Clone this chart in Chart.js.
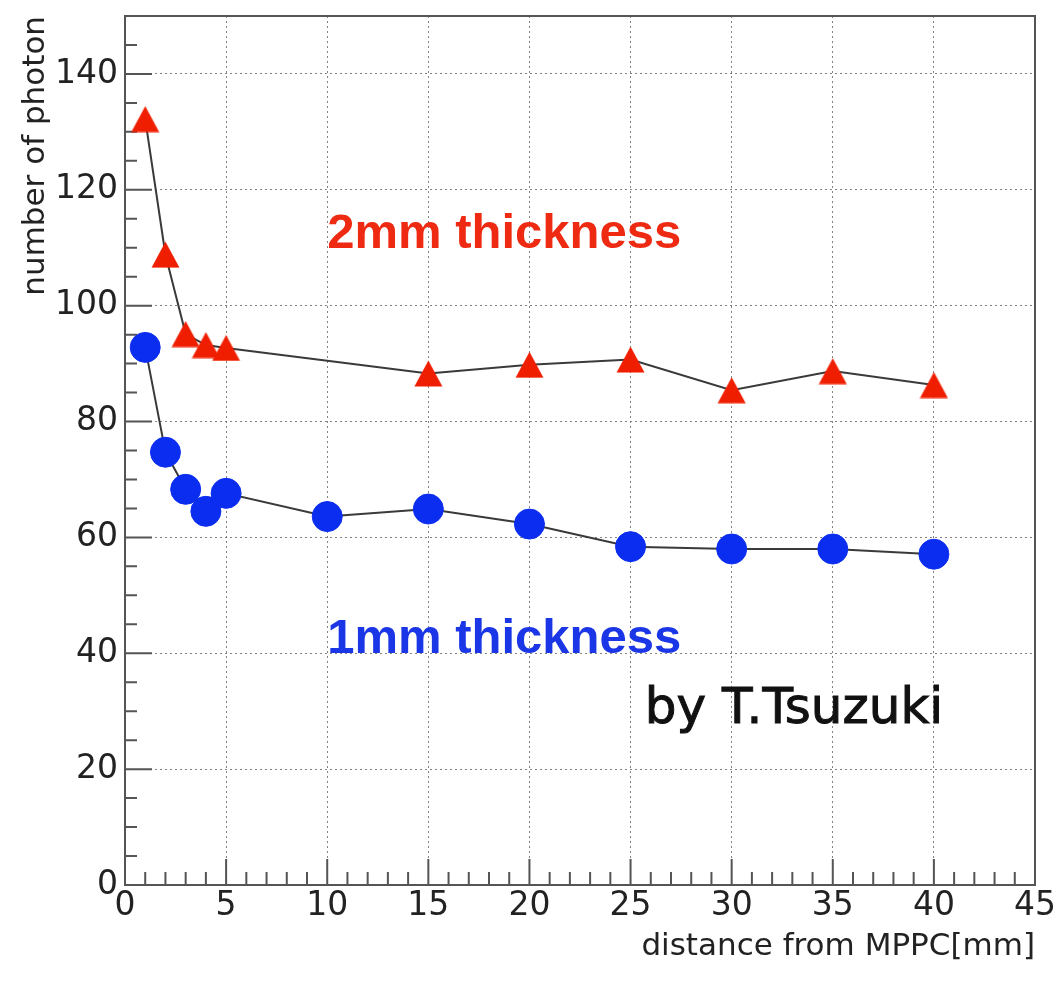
<!DOCTYPE html>
<html><head><meta charset="utf-8">
<script src="https://cdn.jsdelivr.net/npm/chart.js@4.4.1/dist/chart.umd.min.js"></script>
<style>html,body{margin:0;padding:0;background:#fff;} #wrap{width:1060px;height:982px;position:relative;}</style>
</head><body><div id="wrap"><canvas id="c" width="1060" height="982"></canvas></div>
<script>
// ---- data ----
const X_RED  = [1, 2, 3, 4, 5, 15, 20, 25, 30, 35, 40];
const Y_RED  = [132.2, 108.8, 95.1, 93.2, 92.7, 88.3, 89.8, 90.7, 85.4, 88.7, 86.3];
const X_BLUE = [1, 2, 3, 4, 5, 10, 15, 20, 25, 30, 35, 40];
const Y_BLUE = [92.8, 74.7, 68.3, 64.5, 67.6, 63.6, 64.9, 62.3, 58.4, 58.0, 58.0, 57.1];
const X_TICKS = [0, 5, 10, 15, 20, 25, 30, 35, 40, 45];
const Y_TICKS = [0, 20, 40, 60, 80, 100, 120, 140];
const X_TITLE = 'distance from MPPC[mm]';
const Y_TITLE = 'number of photon';
const RED_LABEL = '2mm thickness';
const BLUE_LABEL = '1mm thickness';
const AUTHOR = 'by T.Tsuzuki';

// ---- styles ----
const RED = '#f01e00';
const BLUE = '#0b2df0';
function triImg(color){
  const c = document.createElement('canvas'); c.width = 29; c.height = 27;
  const g = c.getContext('2d'); g.fillStyle = color;
  g.beginPath(); g.moveTo(14.5, 0.5); g.lineTo(28.5, 26.5); g.lineTo(0.5, 26.5); g.closePath(); g.fill();
  return c;
}
const tickFont = {family: '"DejaVu Sans"', size: 33};
const titleFont = {family: '"DejaVu Sans"', size: 31};

const framePlugin = {
  id: 'frame',
  beforeDatasetsDraw(chart){
    const {ctx, chartArea: a, scales: {x, y}} = chart;
    ctx.save();
    ctx.strokeStyle = '#555'; ctx.lineWidth = 2;
    ctx.beginPath();
    for (let v = 0; v <= 45; v++) {
      const px = x.getPixelForValue(v); const L = v % 5 === 0 ? 26 : 13;
      ctx.moveTo(px, a.bottom); ctx.lineTo(px, a.bottom - L);
    }
    for (let v = 0; v < 150; v += 5) {
      const py = y.getPixelForValue(v); const L = v % 20 === 0 ? 27 : 12;
      ctx.moveTo(a.left, py); ctx.lineTo(a.left + L, py);
    }
    ctx.stroke();
    ctx.strokeRect(a.left, a.top, a.right - a.left, a.bottom - a.top);
    ctx.restore();
  },
  afterDatasetsDraw(chart){
    const {ctx, scales: {x, y}} = chart;
    ctx.save();
    ctx.textBaseline = 'alphabetic'; ctx.textAlign = 'left';
    ctx.font = 'bold 49px "Liberation Sans"';
    ctx.fillStyle = '#ee2a12';
    ctx.fillText(RED_LABEL, x.getPixelForValue(10), y.getPixelForValue(110));
    ctx.fillStyle = '#1a36e6';
    ctx.fillText(BLUE_LABEL, x.getPixelForValue(10), y.getPixelForValue(40));
    ctx.font = '50px "DejaVu Sans"';
    ctx.fillStyle = '#111'; ctx.strokeStyle = '#111'; ctx.lineWidth = 1;
    ctx.fillText(AUTHOR, x.getPixelForValue(25.7), y.getPixelForValue(28));
    ctx.strokeText(AUTHOR, x.getPixelForValue(25.7), y.getPixelForValue(28));
    ctx.restore();
  }
};

const toPts = (xs, ys) => xs.map((v, i) => ({x: v, y: ys[i]}));

new Chart(document.getElementById('c'), {
  type: 'line',
  data: {
    datasets: [
      {data: toPts(X_RED, Y_RED), borderColor: '#3a3a3a', borderWidth: 2, pointStyle: triImg(RED),
       pointRadius: 14, pointBackgroundColor: RED, pointBorderColor: RED, tension: 0, fill: false},
      {data: toPts(X_BLUE, Y_BLUE), borderColor: '#3a3a3a', borderWidth: 2, pointStyle: 'circle',
       pointRadius: 15, pointBorderWidth: 1, pointBackgroundColor: BLUE, pointBorderColor: BLUE, tension: 0, fill: false}
    ]
  },
  options: {
    responsive: false, animation: false,
    layout: {padding: {top: 15, right: 25, left: 0, bottom: 0}},
    plugins: {legend: {display: false}, tooltip: {enabled: false}},
    scales: {
      x: {
        type: 'linear', min: 0, max: 45,
        afterBuildTicks: s => { s.ticks = X_TICKS.map(v => ({value: v})); },
        afterFit: s => { s.height = 97; s.paddingLeft = 0; s.paddingRight = 0; },
        ticks: {font: tickFont, color: '#222', padding: 2, maxRotation: 0, autoSkip: false},
        grid: {color: 'rgba(100,100,100,0.8)', lineWidth: 1, drawTicks: false},
        border: {display: false, dash: [2, 3]},
        title: {display: true, text: X_TITLE, align: 'end', font: titleFont, color: '#222', padding: {top: 0, bottom: 16}}
      },
      y: {
        type: 'linear', min: 0, max: 150,
        afterBuildTicks: s => { s.ticks = Y_TICKS.map(v => ({value: v})); },
        afterFit: s => { s.width = 125; s.paddingTop = 0; s.paddingBottom = 0; },
        ticks: {font: tickFont, color: '#222', padding: 7, autoSkip: false},
        grid: {color: 'rgba(100,100,100,0.8)', lineWidth: 1, drawTicks: false},
        border: {display: false, dash: [2, 3]},
        title: {display: true, text: Y_TITLE, align: 'end', font: titleFont, color: '#222', padding: {top: 17, bottom: 0}}
      }
    }
  },
  plugins: [framePlugin]
});
</script>
</body></html>
